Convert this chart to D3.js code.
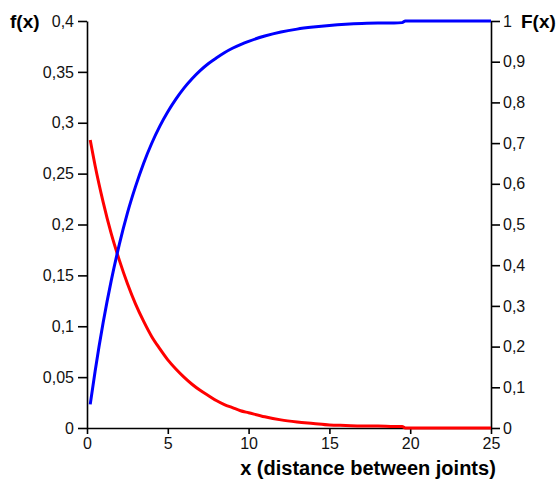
<!DOCTYPE html>
<html><head><meta charset="utf-8">
<script src="https://cdn.jsdelivr.net/npm/d3@7"></script>
<style>body{margin:0;background:#fff}svg{display:block}text{font-family:"Liberation Sans",Arial,sans-serif}</style>
</head><body>
<svg id="c" width="558" height="481"></svg>
<script>
const xVals = [0.2,0.5,1,1.5,2,2.5,3,3.5,4,4.5,5,5.5,6,6.5,7,7.5,8,8.5,9,9.5,10,11,12,13,14,15,16,17,18,19,19.5,19.7,20,21,22,23,24,25];
const pdfVals = [0.283,0.258,0.222,0.191,0.165,0.142,0.122,0.105,0.090,0.078,0.067,0.058,0.050,0.043,0.037,0.032,0.027,0.023,0.020,0.017,0.015,0.011,0.008,0.006,0.0045,0.003,0.0025,0.002,0.002,0.0015,0.0015,0,0,0,0,0,0,0];
const cdfVals = [0.058,0.139,0.259,0.362,0.451,0.528,0.593,0.650,0.699,0.741,0.777,0.808,0.835,0.858,0.878,0.895,0.909,0.922,0.933,0.942,0.950,0.963,0.973,0.980,0.985,0.989,0.992,0.994,0.995,0.995,0.996,1,1,1,1,1,1,1];
const xTicks = [0,5,10,15,20,25];
const leftTicks = [0,0.05,0.1,0.15,0.2,0.25,0.3,0.35,0.4];
const rightTicks = [0,0.1,0.2,0.3,0.4,0.5,0.6,0.7,0.8,0.9,1];

const svg = d3.select("#c");
const L = 87, R = 491, T = 21, B = 428;
const x = d3.scaleLinear().domain([0,25]).range([L,R]);
const yL = d3.scaleLinear().domain([0,0.4]).range([B,T]);
const yR = d3.scaleLinear().domain([0,1]).range([B,T]);
const fmt = d => String(+d.toFixed(2)).replace(".", ",");

function style(g){
  g.select(".domain").attr("stroke","#000").attr("stroke-width",1.6);
  g.selectAll(".tick line").attr("stroke","#000").attr("stroke-width",1.6);
  g.selectAll(".tick text").attr("fill","#111").style("font-size","16px");
}
svg.append("g").attr("transform",`translate(0,${B})`)
  .call(d3.axisBottom(x).tickValues(xTicks).tickFormat(fmt).tickSize(6).tickSizeOuter(0).tickPadding(4))
  .call(style);
svg.append("g").attr("transform",`translate(${L},0)`)
  .call(d3.axisLeft(yL).tickValues(leftTicks).tickFormat(fmt).tickSize(9).tickSizeOuter(0).tickPadding(4))
  .call(style);
svg.append("g").attr("transform",`translate(${R},0)`)
  .call(d3.axisRight(yR).tickValues(rightTicks).tickFormat(fmt).tickSize(9).tickSizeOuter(0).tickPadding(3))
  .call(style);

const pdf = xVals.map((v,i)=>[v,pdfVals[i]]);
const cdf = xVals.map((v,i)=>[v,cdfVals[i]]);
svg.append("path").datum(pdf).attr("fill","none").attr("stroke","#ff0000").attr("stroke-width",3)
  .attr("d", d3.line().x(d=>x(d[0])).y(d=>yL(d[1])).curve(d3.curveMonotoneX));
svg.append("path").datum(cdf).attr("fill","none").attr("stroke","#0000ff").attr("stroke-width",3)
  .attr("d", d3.line().x(d=>x(d[0])).y(d=>yR(d[1])).curve(d3.curveMonotoneX));

svg.append("text").attr("x",10).attr("y",28).style("font-size","19px").style("font-weight","bold").text("f(x)");
svg.append("text").attr("x",521).attr("y",28).style("font-size","19px").style("font-weight","bold").text("F(x)");
svg.append("text").attr("x",368).attr("y",475).attr("text-anchor","middle").style("font-size","20px").style("font-weight","bold").text("x (distance between joints)");
</script>
</body></html>
